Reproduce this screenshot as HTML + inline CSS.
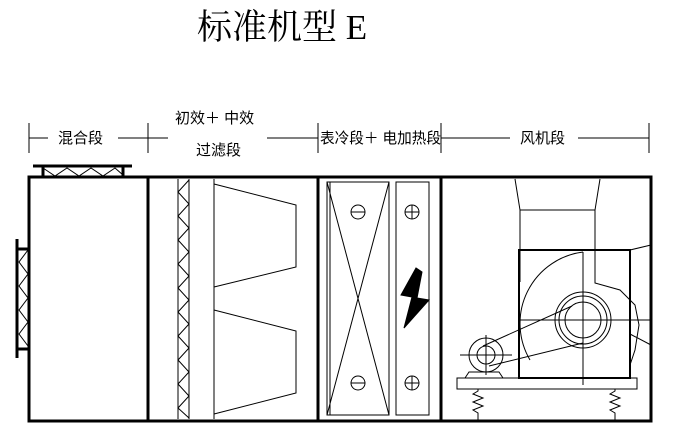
<!DOCTYPE html><html><head><style>body{margin:0;background:#fff;width:673px;height:428px;overflow:hidden}</style></head><body>
<svg width="673" height="428" xmlns="http://www.w3.org/2000/svg" font-family="'Liberation Serif','Noto Serif CJK SC',serif">
<text x="197" y="39" font-size="35">标准机型 E</text>
<g stroke="#000" stroke-width="1" fill="none">
<line x1="29" y1="138" x2="48" y2="138"/><line x1="118" y1="138" x2="168" y2="138"/><line x1="267" y1="138" x2="318" y2="138"/>
<line x1="441" y1="138" x2="510" y2="138"/><line x1="578" y1="138" x2="649" y2="138"/>
<line x1="29" y1="123" x2="29" y2="153"/><line x1="148" y1="123" x2="148" y2="153"/><line x1="318" y1="123" x2="318" y2="153"/><line x1="441" y1="123" x2="441" y2="153"/><line x1="649" y1="123" x2="649" y2="153"/>
</g>
<g font-family="'Liberation Sans','Noto Sans CJK SC',sans-serif" font-size="15">
<text x="58" y="143">混合段</text>
<text x="175" y="123">初效＋ 中效</text>
<text x="196" y="155">过滤段</text>
<text x="320" y="143" textLength="121" lengthAdjust="spacingAndGlyphs">表冷段＋ 电加热段</text>
<text x="520" y="143">风机段</text>
</g>
<g stroke="#000" fill="none">
<rect x="29" y="177" width="622" height="244" stroke-width="3"/>
<line x1="148" y1="177" x2="148" y2="421" stroke-width="3"/>
<line x1="318" y1="177" x2="318" y2="421" stroke-width="3"/>
<line x1="441" y1="177" x2="441" y2="421" stroke-width="3"/>
<line x1="33" y1="166" x2="132" y2="166" stroke-width="3"/>
<line x1="43" y1="166" x2="43" y2="177" stroke-width="3"/><line x1="123" y1="166" x2="123" y2="177" stroke-width="3"/>
<polyline points="43,168 55,176 67,168 79,176 91,168 103,176 115,168 123,175" stroke-width="1"/>
<line x1="17" y1="239" x2="17" y2="358" stroke-width="3"/>
<line x1="17" y1="249" x2="29" y2="249" stroke-width="3"/><line x1="17" y1="349" x2="29" y2="349" stroke-width="3"/>
<polyline points="28,250 19,262 28,274 19,286 28,298 19,310 28,322 19,334 28,346" stroke-width="1"/>
<line x1="178" y1="179" x2="178" y2="419"/><line x1="189" y1="179" x2="189" y2="419"/>
<polyline points="189,180 178,192 189,204 178,216 189,228 178,240 189,252 178,264 189,276 178,288 189,300 178,312 189,324 178,336 189,348 178,360 189,372 178,384 189,396 178,408 189,418"/>
<line x1="214" y1="179" x2="214" y2="419"/>
<polyline points="214,184 296,205 296,267 214,287"/>
<polyline points="214,310 296,331 296,393 214,414"/>
<rect x="327" y="182" width="62" height="233"/><line x1="330" y1="182" x2="330" y2="415"/>
<line x1="327" y1="182" x2="389" y2="415"/><line x1="389" y1="182" x2="327" y2="415"/>
<circle cx="358" cy="212" r="7" fill="#fff"/><line x1="351" y1="212" x2="365" y2="212"/>
<circle cx="358" cy="383" r="7" fill="#fff"/><line x1="351" y1="383" x2="365" y2="383"/>
<rect x="396" y="182" width="33" height="233"/>
<circle cx="412" cy="212" r="7"/><line x1="405" y1="212" x2="419" y2="212"/><line x1="412" y1="205" x2="412" y2="219"/>
<circle cx="412" cy="383" r="7"/><line x1="405" y1="383" x2="419" y2="383"/><line x1="412" y1="376" x2="412" y2="390"/>
<polygon points="416,268 401,295 412,297 404,328 429,300 417,298 422,272" fill="#000"/>
<polyline points="515,179 520,210 520,282"/><polyline points="600,179 595,210 595,283 620,290 635,305 639,325 635,350 630,365"/>
<line x1="520" y1="210" x2="595" y2="210"/>
<rect x="519" y="250" width="111" height="128" stroke-width="2"/>
<path d="M583,252 A72,72 0 0 0 530,360" />
<circle cx="583" cy="320" r="28"/><circle cx="583" cy="320" r="24"/><circle cx="583" cy="320" r="18"/>
<line x1="583" y1="252" x2="583" y2="385"/><line x1="519" y1="320" x2="650" y2="320"/>
<polyline points="630,250 651,245"/><polyline points="630,334 651,345"/>
<circle cx="486" cy="355" r="17"/><circle cx="486" cy="355" r="9"/>
<line x1="460" y1="355" x2="512" y2="355"/><line x1="486" y1="335" x2="486" y2="375"/>
<line x1="483" y1="346" x2="572" y2="306"/><line x1="489" y1="366" x2="583" y2="343"/>
<rect x="457" y="378" width="180" height="11"/>
<path d="M465,378 l4,-6 h30 l4,6"/>
<polyline points="478,389 478,391 473,394 483,398 473,402 483,406 473,410 478,413 478,420"/>
<polyline points="615,389 615,391 610,394 620,398 610,402 620,406 610,410 615,413 615,420"/>
</g>
</svg></body></html>
